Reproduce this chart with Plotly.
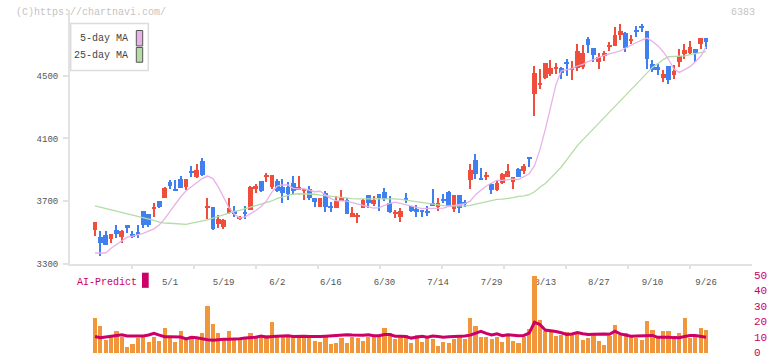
import numpy as np
import pandas as pd
import plotly.graph_objects as go

# ---------------- data ----------------
holidays = ["2025-04-29", "2025-05-05", "2025-05-06", "2025-07-21",
            "2025-08-11", "2025-09-15", "2025-09-23"]
days = [d for d in pd.bdate_range("2025-04-10", "2025-09-26")
        if d.strftime("%Y-%m-%d") not in holidays]
dates = [f"{d.month}/{d.day}" for d in days]

opens = [3517, 3471, 3488, 3460, 3515, 3473, 3551, 3494, 3503, 3640,
         3622, 3651, 3701, 3718, 3822, 3780, 3841, 3791, 3896, 3854,
         3958, 3661, 3666, 3555, 3536, 3628, 3640, 3586, 3628, 3645,
         3780, 3829, 3858, 3791, 3829, 3791, 3791, 3816, 3770, 3770,
         3780, 3718, 3666, 3753, 3672, 3655, 3703, 3711, 3603, 3598,
         3659, 3739, 3680, 3745, 3760, 3691, 3620, 3603, 3718, 3670,
         3649, 3645, 3640, 3691, 3666, 3711, 3760, 3649, 3739, 3697,
         3837, 3964, 3847, 3856, 3808, 3770, 3816, 3854, 3822, 3906,
         3896, 3979, 4386, 4443, 4487, 4512, 4548, 4549, 4591, 4539,
         4548, 4554, 4738, 4675, 4589, 4633, 4690, 4690, 4758, 4773,
         4721, 4794, 4819, 4788, 4579, 4558, 4487, 4564, 4506, 4589,
         4637, 4648, 4669, 4704, 4742]
highs = [3567, 3509, 3509, 3494, 3551, 3519, 3551, 3513, 3551, 3640,
         3622, 3686, 3701, 3791, 3837, 3837, 3864, 3841, 3923, 3941,
         3979, 3722, 3666, 3614, 3589, 3722, 3670, 3609, 3670, 3795,
         3812, 3829, 3879, 3868, 3843, 3843, 3822, 3864, 3860, 3780,
         3797, 3718, 3724, 3766, 3697, 3735, 3774, 3724, 3666, 3623,
         3714, 3739, 3733, 3745, 3785, 3733, 3645, 3659, 3753, 3670,
         3676, 3645, 3670, 3776, 3722, 3749, 3766, 3739, 3739, 3711,
         3937, 4000, 3910, 3889, 3816, 3833, 3881, 3937, 3854, 3910,
         3941, 3985, 4564, 4543, 4581, 4599, 4585, 4554, 4606, 4595,
         4706, 4694, 4746, 4675, 4644, 4658, 4715, 4809, 4829, 4783,
         4763, 4819, 4832, 4788, 4599, 4575, 4537, 4564, 4570, 4669,
         4704, 4725, 4669, 4742, 4742]
lows = [3478, 3352, 3419, 3435, 3467, 3435, 3498, 3467, 3467, 3529,
        3534, 3603, 3659, 3718, 3780, 3766, 3787, 3774, 3858, 3849,
        3864, 3590, 3519, 3527, 3526, 3622, 3603, 3582, 3590, 3645,
        3755, 3760, 3822, 3780, 3760, 3690, 3708, 3739, 3770, 3711,
        3711, 3666, 3666, 3634, 3630, 3655, 3703, 3617, 3598, 3561,
        3655, 3655, 3672, 3639, 3703, 3624, 3592, 3571, 3686, 3634,
        3603, 3603, 3609, 3672, 3639, 3686, 3672, 3634, 3624, 3666,
        3780, 3843, 3833, 3833, 3749, 3764, 3812, 3854, 3780, 3858,
        3874, 3916, 4244, 4418, 4480, 4501, 4512, 4480, 4501, 4474,
        4529, 4543, 4648, 4589, 4543, 4595, 4658, 4690, 4731, 4654,
        4704, 4746, 4780, 4543, 4523, 4506, 4460, 4449, 4480, 4554,
        4606, 4642, 4586, 4669, 4669]
closes = [3565, 3435, 3419, 3494, 3492, 3509, 3529, 3473, 3484, 3551,
          3551, 3659, 3666, 3785, 3795, 3766, 3787, 3841, 3885, 3902,
          3868, 3666, 3526, 3586, 3582, 3655, 3617, 3603, 3623, 3791,
          3797, 3764, 3864, 3868, 3768, 3755, 3745, 3766, 3791, 3780,
          3718, 3693, 3718, 3661, 3655, 3703, 3724, 3617, 3628, 3615,
          3707, 3686, 3707, 3724, 3714, 3630, 3623, 3640, 3711, 3640,
          3630, 3630, 3630, 3672, 3691, 3707, 3672, 3739, 3659, 3680,
          3899, 3874, 3833, 3860, 3770, 3816, 3871, 3896, 3854, 3858,
          3923, 3973, 4518, 4455, 4581, 4549, 4554, 4518, 4575, 4543,
          4658, 4644, 4700, 4633, 4620, 4644, 4694, 4763, 4788, 4679,
          4738, 4777, 4809, 4606, 4537, 4537, 4512, 4474, 4533, 4627,
          4662, 4686, 4644, 4742, 4715]

ma5 = [3369, 3369, 3369, 3399, 3421, 3446, 3470, 3477, 3485, 3495,
       3509, 3523, 3549, 3587, 3634, 3682, 3728, 3766, 3793, 3820,
       3844, 3860, 3844, 3791, 3729, 3658, 3618, 3592, 3600, 3618,
       3640, 3666, 3702, 3758, 3796, 3803, 3804, 3782, 3778, 3779,
       3769, 3760, 3763, 3741, 3716, 3703, 3703, 3700, 3691, 3681,
       3672, 3662, 3655, 3659, 3672, 3686, 3693, 3684, 3677, 3667,
       3659, 3652, 3654, 3655, 3655, 3656, 3666, 3672, 3677, 3684,
       3700, 3741, 3770, 3797, 3816, 3833, 3833, 3838, 3841, 3838,
       3854, 3875, 3926, 4027, 4156, 4298, 4443, 4531, 4540, 4546,
       4562, 4573, 4590, 4605, 4617, 4630, 4640, 4648, 4658, 4677,
       4697, 4712, 4727, 4740, 4718, 4692, 4653, 4605, 4542, 4521,
       4539, 4558, 4589, 4624, 4684]
ma25 = [3670, 3662, 3653, 3643, 3633, 3625, 3619, 3612, 3605, 3597,
        3588, 3578, 3566, 3560, 3559, 3557, 3553, 3552, 3559, 3566,
        3572, 3580, 3592, 3603, 3614, 3625, 3634, 3641, 3649, 3661,
        3672, 3683, 3692, 3701, 3718, 3728, 3737, 3745, 3747, 3747,
        3747, 3744, 3739, 3735, 3730, 3725, 3720, 3717, 3716, 3714,
        3714, 3715, 3716, 3717, 3717, 3716, 3714, 3711, 3706, 3701,
        3695, 3689, 3683, 3678, 3674, 3671, 3670, 3669, 3668, 3670,
        3673, 3681, 3691, 3698, 3706, 3711, 3713, 3716, 3722, 3730,
        3733, 3741, 3760, 3788, 3813, 3847, 3882, 3918, 3963, 4010,
        4054, 4091, 4127, 4158, 4193, 4230, 4265, 4303, 4340, 4374,
        4412, 4447, 4482, 4518, 4553, 4577, 4603, 4621, 4623, 4625,
        4626, 4634, 4640, 4647, 4654]

volume = [22.5, 17.3, 8.4, 10.3, 14.1, 10.3, 3.4, 5.7, 9.2, 10.3,
          7.2, 9.9, 7.8, 16.2, 11.0, 6.7, 14.1, 9.9, 11.0, 10.3,
          13.0, 29.9, 18.7, 12.4, 8.9, 13.7, 9.5, 8.9, 9.9, 12.4,
          9.9, 11.4, 11.6, 19.8, 10.3, 11.6, 11.6, 9.9, 9.2, 10.3,
          9.9, 7.8, 6.7, 9.9, 5.3, 6.1, 9.2, 6.1, 10.3, 9.2,
          7.8, 10.3, 9.9, 9.9, 15.6, 12.4, 8.9, 11.6, 11.6, 6.1,
          11.6, 6.7, 9.9, 8.9, 4.6, 6.7, 6.1, 8.9, 10.3, 8.9,
          22.5, 17.3, 10.3, 10.3, 8.9, 9.9, 7.2, 11.4, 7.8, 6.3,
          9.9, 15.2, 49.5, 21.1, 14.1, 14.7, 11.0, 11.6, 13.5, 13.0,
          13.5, 8.4, 9.2, 11.6, 7.8, 5.0, 11.0, 17.9, 11.6, 12.7,
          9.9, 9.2, 8.4, 20.4, 14.7, 11.0, 14.1, 14.1, 11.0, 12.4,
          22.5, 9.2, 9.9, 16.2, 14.7]
ai_predict = [10.3, 9.5, 10.0, 10.5, 11.3, 11.5, 10.7, 10.7, 10.5, 10.7,
              11.3, 12.4, 11.2, 10.2, 10.1, 10.1, 10.0, 8.8, 9.8, 9.5,
              8.8, 8.3, 7.9, 8.4, 8.6, 8.6, 8.6, 8.9, 9.3, 9.5,
              9.9, 10.6, 9.8, 10.3, 10.5, 11.0, 10.8, 10.3, 10.5, 10.5,
              10.3, 10.1, 10.3, 10.5, 10.8, 11.0, 11.2, 11.5, 11.3, 11.0,
              11.1, 11.5, 10.8, 10.8, 11.6, 11.6, 10.5, 10.5, 10.3, 9.3,
              9.8, 10.5, 9.8, 10.6, 10.3, 9.9, 10.2, 10.3, 10.4, 10.6,
              11.2, 12.4, 13.7, 12.3, 11.3, 12.0, 10.8, 11.4, 11.0, 10.8,
              11.0, 12.5, 19.5, 18.0, 14.5, 14.1, 13.5, 12.7, 11.6, 12.0,
              12.8, 12.1, 11.6, 11.8, 12.0, 12.0, 11.8, 13.8, 12.0, 11.0,
              10.5, 10.6, 10.8, 11.0, 11.0, 9.8, 9.9, 9.9, 9.6, 9.5,
              10.3, 11.0, 11.0, 10.5, 9.9]

label_dates = ["5/1", "5/19", "6/2", "6/16", "6/30", "7/14", "7/29",
               "8/13", "8/27", "9/10", "9/26"]
price_ticks = [3300, 3700, 4100, 4500]
ai_ticks = [0, 10, 20, 30, 40, 50]

# ---------------- styling / layout ----------------
W, H = 772, 361
def px(x): return x / W
def py(y): return 1 - y / H

RED, BLUE = "#f04e3c", "#3f7ff0"
PINK, GREEN = "#e8b2e8", "#b4dca6"
CRIMSON, ORANGE = "#cc0066", "#f2963c"
FONT = "Liberation Mono"
AXIS_C = "#e2e2e2"

idx = list(range(len(dates)))
up = [c >= o for o, c in zip(opens, closes)]
colors = [RED if u else BLUE for u in up]
body_base = [min(o, c) for o, c in zip(opens, closes)]
body_h = [max(abs(c - o), 6) for o, c in zip(opens, closes)]
wick_h = [h - l for h, l in zip(highs, lows)]
tick_of = {d: i for i, d in enumerate(dates)}

x_range = [(70 - 95) / 5.36, (752 - 95) / 5.36]

fig = go.Figure()
fig.add_trace(go.Scatter(x=idx, y=ma25, mode="lines",
                         line=dict(color=GREEN, width=1.3), hoverinfo="skip"))
fig.add_trace(go.Scatter(x=idx, y=ma5, mode="lines",
                         line=dict(color=PINK, width=1.3), hoverinfo="skip"))
fig.add_trace(go.Bar(x=idx, y=wick_h, base=lows, width=0.25,
                     marker=dict(color=colors, line=dict(width=0))))
fig.add_trace(go.Bar(x=idx, y=body_h, base=body_base, width=0.88,
                     marker=dict(color=colors, line=dict(width=0))))
fig.add_trace(go.Bar(x=idx, y=volume, width=0.78, xaxis="x2", yaxis="y2",
                     marker=dict(color=ORANGE, line=dict(width=0))))
fig.add_trace(go.Scatter(x=idx, y=ai_predict, mode="lines", xaxis="x2", yaxis="y2",
                         line=dict(color=CRIMSON, width=3)))

main_top, main_bot = 10, 268.3
pp = (268.3 - 77) / 1200.0
y_range = [3300, 3300 + (main_bot - main_top) / pp]
zero_y, pp2 = 358.5, 1.58
y2_range = [-(H - zero_y) / pp2, (zero_y - main_bot) / pp2]

fig.update_layout(
    width=W, height=H, margin=dict(l=0, r=0, t=0, b=0),
    paper_bgcolor="white", plot_bgcolor="white",
    showlegend=False, barmode="overlay", bargap=0,
    font=dict(family=FONT, size=9, color="#555"),
    xaxis=dict(domain=[px(70), px(752)], range=x_range, anchor="y",
               tickvals=[tick_of[d] for d in label_dates], ticktext=label_dates,
               ticks="", ticklen=0, ticklabelstandoff=8, showline=True,
               linecolor=AXIS_C, linewidth=2, showgrid=False, zeroline=False,
               tickfont=dict(family=FONT, size=9, color="#555")),
    yaxis=dict(domain=[py(main_bot), py(main_top)], range=y_range, anchor="x",
               tickvals=price_ticks, ticks="outside", ticklen=5, tickwidth=1.5,
               tickcolor=AXIS_C, showline=True, linecolor=AXIS_C, linewidth=2,
               showgrid=False, zeroline=False, ticklabelstandoff=3,
               tickfont=dict(family=FONT, size=9, color="#555")),
    xaxis2=dict(domain=[px(70), px(752)], range=x_range, anchor="y2", side="top",
                tickvals=list(np.linspace(x_range[0], x_range[1], 12)),
                ticks="inside", ticklen=5, tickwidth=1.5, tickcolor=AXIS_C,
                showticklabels=False, showline=False, showgrid=False, zeroline=False),
    yaxis2=dict(domain=[0, py(main_bot)], range=y2_range, anchor="x2", side="right",
                tickvals=ai_ticks, ticks="", ticklen=0, showline=False, showgrid=False,
                zeroline=False, ticklabelstandoff=1,
                tickfont=dict(family=FONT, size=11, color=CRIMSON)),
)

shapes = [
    dict(type="rect", xref="paper", yref="paper", x0=px(70.7), x1=px(148.3),
         y0=py(71.7), y1=py(24), line=dict(color="#dcdcdc", width=1.5),
         fillcolor="white", layer="above"),
    dict(type="rect", xref="paper", yref="paper", x0=px(136.3), x1=px(142.7),
         y0=py(46.7), y1=py(31), line=dict(color="#555", width=1),
         fillcolor=PINK, layer="above"),
    dict(type="rect", xref="paper", yref="paper", x0=px(136.3), x1=px(142.7),
         y0=py(63.3), y1=py(48.3), line=dict(color="#555", width=1),
         fillcolor=GREEN, layer="above"),
    dict(type="rect", xref="paper", yref="paper", x0=px(142), x1=px(148.7),
         y0=py(292.7), y1=py(277.3), line=dict(width=0),
         fillcolor=CRIMSON, layer="above"),
]
annotations = [
    dict(text="(C)https://chartnavi.com/", xref="paper", yref="paper",
         x=px(14), y=py(12.5), xanchor="left", yanchor="middle", showarrow=False,
         font=dict(family=FONT, size=10, color="#c4c4c4")),
    dict(text="6383", xref="paper", yref="paper", x=px(757), y=py(12.5),
         xanchor="right", yanchor="middle", showarrow=False,
         font=dict(family=FONT, size=10, color="#c4c4c4")),
    dict(text="5-day MA", xref="paper", yref="paper", x=px(130), y=py(39),
         xanchor="right", yanchor="middle", showarrow=False,
         font=dict(family=FONT, size=10, color="#444")),
    dict(text="25-day MA", xref="paper", yref="paper", x=px(130), y=py(56),
         xanchor="right", yanchor="middle", showarrow=False,
         font=dict(family=FONT, size=10, color="#444")),
    dict(text="AI-Predict", xref="paper", yref="paper", x=px(75), y=py(287),
         xanchor="left", yanchor="middle", showarrow=False,
         font=dict(family=FONT, size=10, color=CRIMSON)),
]
fig.update_layout(shapes=shapes, annotations=annotations)

fig.write_html("out.html",
               config={"displayModeBar": False},
               post_script="document.body.style.margin='0';"
                           "document.body.style.overflow='hidden';")
